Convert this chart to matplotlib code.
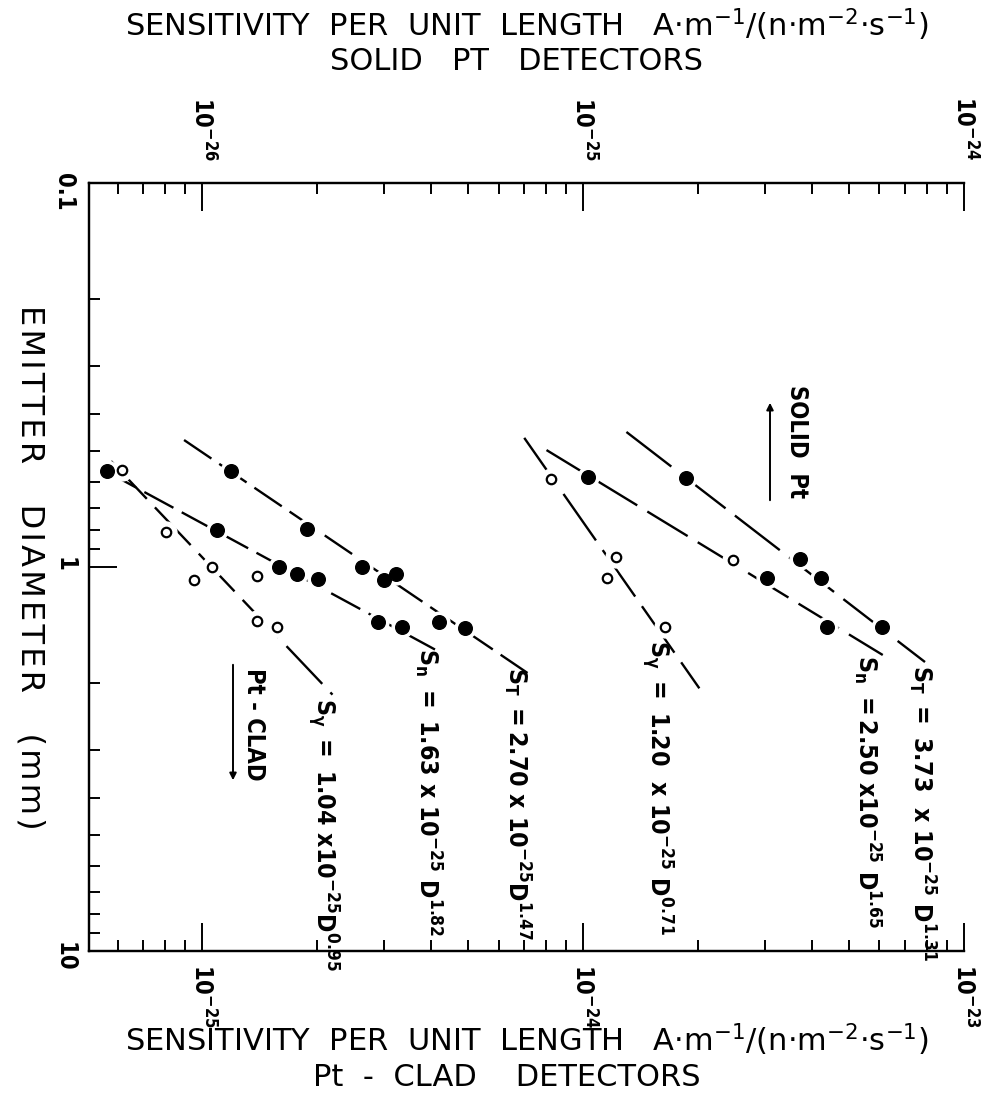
import matplotlib
matplotlib.use('Agg')
import matplotlib.pyplot as plt
from matplotlib import font_manager as fm
from matplotlib.patches import FancyArrowPatch
from matplotlib.ticker import FixedLocator, FixedFormatter, NullFormatter, LogFormatterMathtext

# ---------------- data ----------------
# Pt-clad detectors (bottom axis)
clad_ST_S = [1.19e-25, 1.89e-25, 2.63e-25, 3.01e-25, 3.23e-25, 4.20e-25, 4.91e-25]
clad_ST_D = [0.562, 0.796, 1.0, 1.081, 1.043, 1.39, 1.44]
clad_Sn_S = [5.63e-26, 1.095e-25, 1.59e-25, 1.78e-25, 2.02e-25, 2.90e-25, 3.35e-25]
clad_Sn_D = [0.562, 0.80, 1.0, 1.043, 1.075, 1.39, 1.43]
clad_Sg_S = [6.16e-26, 8.04e-26, 9.53e-26, 1.06e-25, 1.39e-25, 1.39e-25, 1.57e-25]
clad_Sg_D = [0.56, 0.81, 1.08, 1.0, 1.055, 1.38, 1.43]

# Solid Pt detectors (top axis)
solid_ST_S = [1.86e-25, 3.71e-25, 4.21e-25, 6.09e-25]
solid_ST_D = [0.586, 0.953, 1.068, 1.43]
solid_Sn_S = [1.028e-25, 2.47e-25, 3.04e-25, 4.36e-25]
solid_Sn_D = [0.583, 0.959, 1.068, 1.43]
solid_Sn_filled = [True, False, True, True]
solid_Sg_S = [8.26e-26, 1.224e-25, 1.153e-25, 1.637e-25]
solid_Sg_D = [0.590, 0.942, 1.068, 1.43]

# fitted lines (end points)
clad_ST_fit_S = [8.97e-26, 7.15e-25]; clad_ST_fit_D = [0.467, 1.888]
clad_Sn_fit_S = [5.63e-26, 4.25e-25]; clad_Sn_fit_D = [0.565, 1.675]
clad_Sg_fit_S = [5.77e-26, 2.20e-25]; clad_Sg_fit_D = [0.53, 2.15]
solid_ST_fit_S = [1.30e-25, 7.90e-25]; solid_ST_fit_D = [0.445, 1.768]
solid_Sn_fit_S = [8.02e-26, 6.12e-25]; solid_Sn_fit_D = [0.496, 1.695]
solid_Sg_fit_S = [7.01e-26, 2.02e-25]; solid_Sg_fit_D = [0.461, 2.07]

bottom_xlim = [5.05e-26, 1e-23]
top_xlim = [5.05e-27, 1e-24]
bottom_decades = [-25, -24, -23]
top_decades = [-26, -25, -24]
ylim = [10, 0.1]
y_major = [0.1, 1, 10]
y_major_labels = ['0.1', '1', '10']
minor_subs = [2, 3, 4, 5, 6, 7, 8, 9]

# ---------------- font ----------------
ttf = fm.fontManager.ttflist
HAS_COND = any(f.name == 'DejaVu Sans' and f.stretch == 'condensed' for f in ttf)
if HAS_COND:
    plt.rcParams['font.stretch'] = 'condensed'
plt.rcParams['font.family'] = ['DejaVu Sans']
plt.rcParams['mathtext.fontset'] = 'dejavusans'
plt.rcParams['font.weight'] = 'bold'

HAIR = '\u200a'
def spaced(s, sep):
    return sep.join(list(s))

W, H = 994, 1099
fig = plt.figure(figsize=(W / 100, H / 100), dpi=100)
L, R, T, B = 89, 964, 183, 951
ax = fig.add_axes([L / W, 1 - B / H, (R - L) / W, (B - T) / H])
ax.set_xscale('log')
ax.set_yscale('log')
ax.set_xlim(*bottom_xlim)
ax.set_ylim(*ylim)
ax2 = ax.twiny()
ax2.set_xscale('log')
ax2.set_xlim(*top_xlim)


def in_range(vals, lim):
    lo, hi = min(lim), max(lim)
    return [v for v in vals if lo * 0.999 <= v <= hi * 1.001]


def set_log_ticks(axis, decades, lim):
    major = in_range([10.0 ** e for e in decades], lim)
    minor = in_range([s * 10.0 ** e for e in range(min(decades) - 1, max(decades) + 1) for s in minor_subs], lim)
    axis.set_major_locator(FixedLocator(major))
    axis.set_major_formatter(LogFormatterMathtext())
    axis.set_minor_locator(FixedLocator(minor))
    axis.set_minor_formatter(NullFormatter())


set_log_ticks(ax.xaxis, bottom_decades, bottom_xlim)
set_log_ticks(ax2.xaxis, top_decades, top_xlim)

for a in (ax, ax2):
    for sp in a.spines.values():
        sp.set_linewidth(1.6)
    a.spines['right'].set_visible(False)

ax.yaxis.set_major_locator(FixedLocator(y_major))
ax.yaxis.set_major_formatter(FixedFormatter(y_major_labels))
ax.yaxis.set_minor_locator(FixedLocator(in_range([s * 10.0 ** e for e in (-1, 0) for s in minor_subs], ylim)))
ax.yaxis.set_minor_formatter(NullFormatter())

tk = dict(direction='in', width=1.4, color='black')
ax.tick_params(which='major', length=20, **tk)
ax.tick_params(which='minor', length=8, **tk)
ax.tick_params(axis='x', which='both', bottom=True, top=False, labelbottom=True, labeltop=False)
ax.tick_params(axis='x', which='major', labelrotation=-90, labelsize=17, pad=9)
ax.tick_params(axis='y', which='both', left=True, right=False)
ax.tick_params(axis='y', which='major', labelrotation=-90, labelsize=17, pad=9)
ax2.tick_params(which='major', length=20, **tk)
ax2.tick_params(which='minor', length=8, **tk)
ax2.tick_params(axis='x', which='both', top=True, bottom=False, labeltop=True, labelbottom=False)
ax2.tick_params(axis='x', which='major', labelrotation=-90, labelsize=17, pad=16)

# ---------------- lines & markers ----------------
LW = 1.7
def fit(a, S, D, dash):
    a.plot(S, D, color='black', lw=LW, ls=(0, dash), zorder=2, solid_capstyle='butt')

def pts(a, S, D, filled):
    a.plot(S, D, 'o', ms=15, mfc='white', mec='white', zorder=2.5)
    for s, d, f in zip(S, D, filled):
        if f:
            a.plot([s], [d], 'o', ms=9.8, mfc='black', mec='black', zorder=3)
        else:
            a.plot([s], [d], 'o', ms=6.8, mfc='white', mec='black', mew=1.6, zorder=3)

fit(ax, clad_ST_fit_S, clad_ST_fit_D, (14, 4))
fit(ax, clad_Sn_fit_S, clad_Sn_fit_D, (14, 4))
fit(ax, clad_Sg_fit_S, clad_Sg_fit_D, (22, 5))
fit(ax2, solid_ST_fit_S, solid_ST_fit_D, (24, 5))
fit(ax2, solid_Sn_fit_S, solid_Sn_fit_D, (20, 5))
fit(ax2, solid_Sg_fit_S, solid_Sg_fit_D, (24, 5))

pts(ax, clad_ST_S, clad_ST_D, [True] * len(clad_ST_S))
pts(ax, clad_Sn_S, clad_Sn_D, [True] * len(clad_Sn_S))
pts(ax, clad_Sg_S, clad_Sg_D, [False] * len(clad_Sg_S))
pts(ax2, solid_ST_S, solid_ST_D, [True] * len(solid_ST_S))
pts(ax2, solid_Sn_S, solid_Sn_D, solid_Sn_filled)
pts(ax2, solid_Sg_S, solid_Sg_D, [False] * len(solid_Sg_S))

# ---------------- texts ----------------
def fx(x):
    return x / W
def fy(y):
    return 1 - y / H

def vtext(x, ytop, s, size=17.8, weight='bold'):
    fig.text(fx(x), fy(ytop), s, rotation=-90, ha='center', va='top', fontsize=size, fontweight=weight)

vtext(323, 698, r'$\mathregular{S_\gamma\ =\ 1.04\ x10^{-25}D^{0.95}}$')
vtext(428, 648, r'$\mathregular{S_n\ =\ 1.63\ x\ 10^{-25}\ D^{1.82}}$')
vtext(517, 667, r'$\mathregular{S_T\ =2.70\ x\ 10^{-25}D^{1.47}}$')
vtext(657, 640, r'$\mathregular{S_\gamma\ =\ 1.20\ \ x\ 10^{-25}\ D^{0.71}}$')
vtext(867, 655, r'$\mathregular{S_n\ =2.50\ x10^{-25}\ D^{1.65}}$')
vtext(922, 665, r'$\mathregular{S_T\ =\ 3.73\ \ x\ 10^{-25}\ D^{1.31}}$')
vtext(254, 668, 'Pt - CLAD', size=17)
vtext(797, 385, 'SOLID  Pt', size=17)

def arrow(x, y0, y1):
    fig.add_artist(FancyArrowPatch((fx(x), fy(y0)), (fx(x), fy(y1)), transform=fig.transFigure,
                                   arrowstyle='-|>', mutation_scale=10, lw=1.4, color='black'))
arrow(233, 662, 783)
arrow(770, 503, 400)

tprops = dict(fontsize=22, fontweight='normal', fontstretch='normal')
unit = r'$\mathregular{A{\cdot}m^{-1}/(n{\cdot}m^{-2}{\cdot}s^{-1})}$'
line1 = '  '.join(['SENSITIVITY', 'PER', 'UNIT', 'LENGTH']) + '   ' + unit
fig.text(fx(527), fy(25), line1, ha='center', va='center', **tprops)
fig.text(fx(517), fy(62), '   '.join(['SOLID', 'PT', 'DETECTORS']), ha='center', va='center', **tprops)
fig.text(fx(527), fy(1040), line1, ha='center', va='center', **tprops)
fig.text(fx(507), fy(1078), 'Pt  -  CLAD    DETECTORS', ha='center', va='center', **tprops)
yprops = dict(tprops, fontsize=23)
fig.text(fx(30), fy(567), '    '.join(spaced(w, HAIR) for w in ['EMITTER', 'DIAMETER', '(mm)']),
         rotation=-90, ha='center', va='center', **yprops)

fig.savefig('out.png', dpi=100)
